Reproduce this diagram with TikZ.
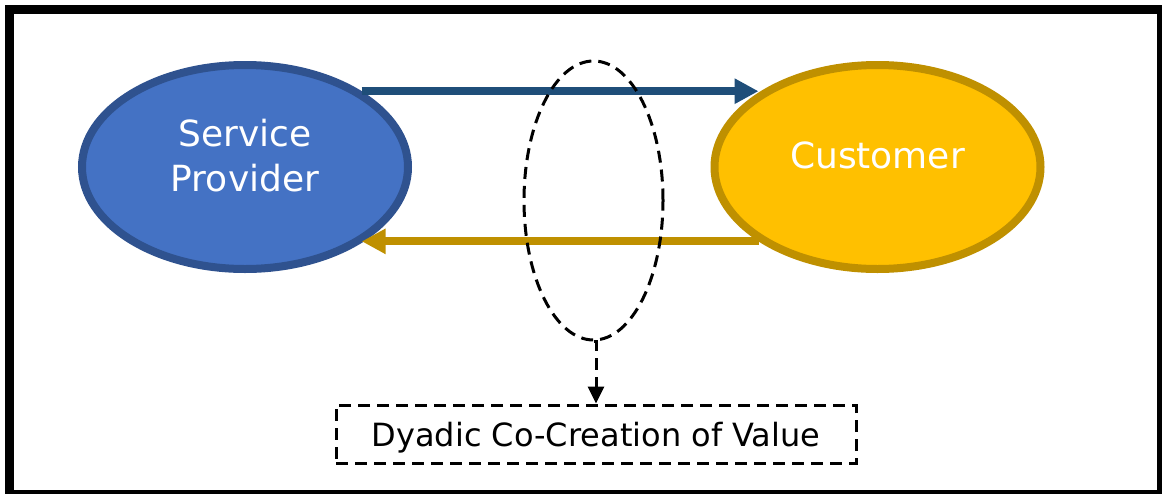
\documentclass[tikz,border=0pt]{standalone}
\usepackage{fontspec}
\setmainfont{DejaVu Sans}
\usetikzlibrary{shapes.geometric,arrows.meta}
\definecolor{provFill}{HTML}{4472C4}
\definecolor{provLine}{HTML}{2F528F}
\definecolor{flowBlue}{HTML}{1F4E79}
\definecolor{custFill}{HTML}{FFC000}
\definecolor{custLine}{HTML}{BF9000}
\begin{document}
\begin{tikzpicture}[x=1pt,y=-1pt,
  party/.style={ellipse, line width=8pt, minimum width=326pt, minimum height=204pt, inner sep=0pt},
  partytext/.style={text=white, font=\fontsize{36}{45}\selectfont, align=center, inner sep=0pt},
  flow/.style={line width=8pt, -{Triangle[length=24pt,width=24pt]}},
  dashline/.style={line width=3pt, dash pattern=on 12pt off 7pt},
]
\useasboundingbox (0,0) rectangle (1162,493);
% outer frame
\draw[line width=9pt] (9,9) rectangle (1161,494);

% the two parties
\node[party, draw=provLine, fill=provFill] (sp) at (245,167) {};
\node[party, draw=custLine, fill=custFill] (cu) at (877.5,167) {};

% exchanges between them
\draw[flow, flowBlue] (sp.33) -- (sp.33 -| cu.148);
\draw[flow, custLine] (cu.212) -- (cu.212 -| sp.327);

% labels of the parties
\node[partytext] (spt) at (245,156) {Service\\Provider};
\node[partytext] (cut) at (877.5,155) {Customer};

% co-creation zone and its caption
\node[ellipse, draw, dashline, minimum width=139pt, minimum height=279pt, inner sep=0pt] (cc) at (593.5,200.5) {};
\node[draw, dashline, minimum width=520pt, minimum height=58pt, inner sep=0pt, text depth=0pt,
      font=\fontsize{32}{38}\selectfont] (dy) at (596,434) {Dyadic Co-Creation of Value};
\draw[dashline, -{Triangle[length=17pt,width=16pt]}] (cc.south) -| (dy.north);
\end{tikzpicture}
\end{document}
